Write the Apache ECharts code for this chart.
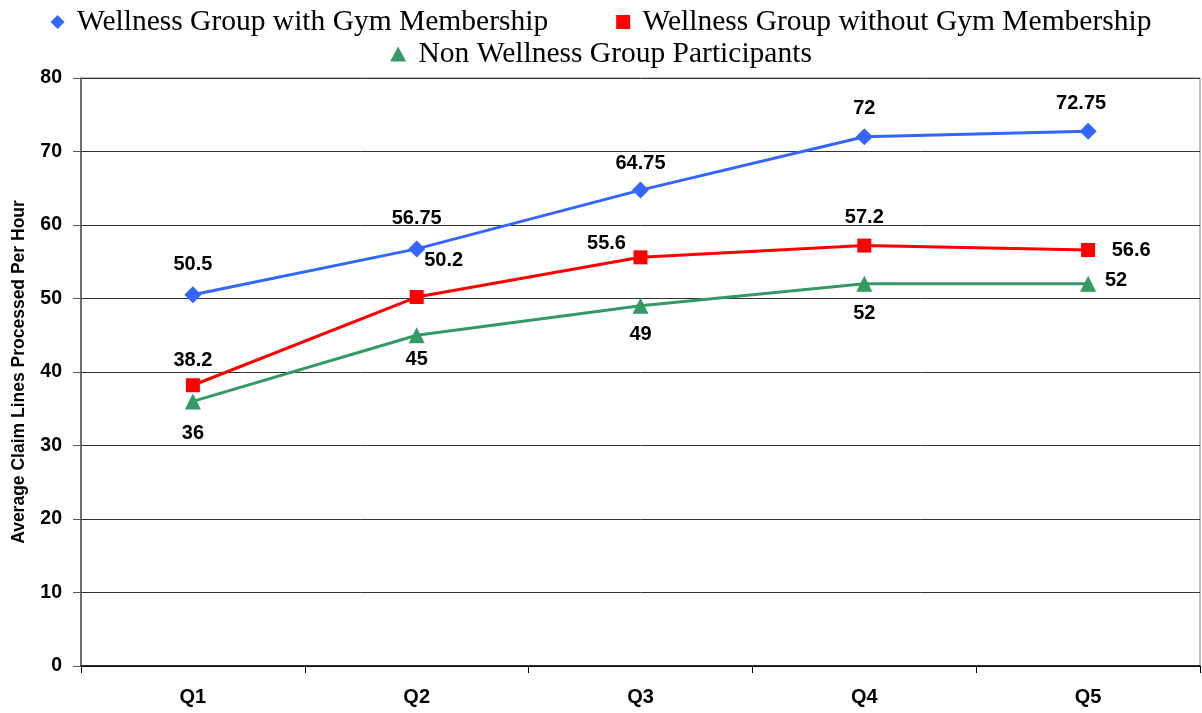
<!DOCTYPE html>
<html>
<head>
<meta charset="utf-8">
<script src="https://cdn.jsdelivr.net/npm/echarts@6/dist/echarts.min.js"></script>
<style>
html,body{margin:0;padding:0;background:#fff;}
#chart{width:1202px;height:713px;}
</style>
</head>
<body>
<div id="chart"></div>
<script>
const categories = ['Q1', 'Q2', 'Q3', 'Q4', 'Q5'];
const withGym = [50.5, 56.75, 64.75, 72, 72.75];
const withoutGym = [38.2, 50.2, 55.6, 57.2, 56.6];
const nonWellness = [36, 45, 49, 52, 52];
const seriesNames = ['Wellness Group with Gym Membership', 'Wellness Group without Gym Membership', 'Non Wellness Group Participants'];
const yTicks = [0, 10, 20, 30, 40, 50, 60, 70, 80];

// label offsets per point (presentation only)
const blueOff = [[0,-30],[0,-30],[0,-27],[0,-28],[-7,-28]];
const redOff = [[0,-25],[27,-37],[-34,-14],[0,-28],[43,0]];
const greenOff = [[0,32],[0,24],[0,29],[0,30],[28,-3]];

function mk(values, offs) {
  return values.map((v, i) => ({
    value: v,
    label: { offset: offs[i] }
  }));
}

const boldFont = 'Liberation Sans, Arial, sans-serif';
const labelStyle = {
  show: true,
  position: 'inside',
  fontFamily: boldFont,
  fontWeight: 'bold',
  fontSize: 20,
  color: '#000'
};
const legendText = { fontFamily: 'Liberation Serif, Times New Roman, serif', fontSize: 29.5, color: '#000' };

const chart = echarts.init(document.getElementById('chart'));
chart.setOption({
  animation: false,
  backgroundColor: '#fff',
  legend: [{
    data: [{ name: seriesNames[0], icon: 'diamond' }, { name: seriesNames[1], icon: 'rect' }],
    top: 2,
    left: 'center',
    itemGap: 68,
    itemWidth: 14,
    itemHeight: 14,
    formatter: n => ' ' + n,
    textStyle: legendText
  }, {
    data: [{ name: seriesNames[2], icon: 'triangle' }],
    top: 34,
    left: 'center',
    itemWidth: 16,
    itemHeight: 15,
    formatter: n => ' ' + n,
    textStyle: legendText
  }],
  grid: {
    left: 81, right: 2, top: 78, bottom: 47,
    show: true, borderColor: '#808080', borderWidth: 1
  },
  xAxis: {
    type: 'category',
    data: categories,
    boundaryGap: true,
    axisLine: { lineStyle: { color: '#000', width: 1.5 } },
    axisTick: { show: true, alignWithLabel: false, length: 7, lineStyle: { color: '#000' } },
    axisLabel: { margin: 21, fontFamily: boldFont, fontWeight: 'bold', fontSize: 20, color: '#000' }
  },
  yAxis: {
    type: 'value',
    min: yTicks[0],
    max: yTicks[yTicks.length - 1],
    interval: 10,
    name: 'Average Claim Lines Processed Per Hour',
    nameLocation: 'middle',
    nameGap: 53,
    nameTextStyle: { fontFamily: boldFont, fontWeight: 'bold', fontSize: 17.5, color: '#000' },
    axisLine: { show: true, lineStyle: { color: '#555', width: 1.5 } },
    axisTick: { show: true, inside: false, length: 8, lineStyle: { color: '#555' } },
    axisLabel: { margin: 19, fontFamily: boldFont, fontWeight: 'bold', fontSize: 19.5, color: '#000' },
    splitLine: { show: true, lineStyle: { color: '#333', width: 1 } }
  },
  series: [{
    name: seriesNames[0],
    type: 'line',
    data: mk(withGym, blueOff),
    symbol: 'diamond',
    symbolSize: 17,
    lineStyle: { color: '#3366FF', width: 3 },
    itemStyle: { color: '#3366FF' },
    label: labelStyle
  }, {
    name: seriesNames[1],
    type: 'line',
    data: mk(withoutGym, redOff),
    symbol: 'rect',
    symbolSize: 14,
    lineStyle: { color: '#FF0000', width: 3 },
    itemStyle: { color: '#FF0000' },
    label: labelStyle
  }, {
    name: seriesNames[2],
    type: 'line',
    data: mk(nonWellness, greenOff),
    symbol: 'triangle',
    symbolSize: 16,
    lineStyle: { color: '#339966', width: 3 },
    itemStyle: { color: '#339966' },
    label: labelStyle
  }]
});
</script>
</body>
</html>
